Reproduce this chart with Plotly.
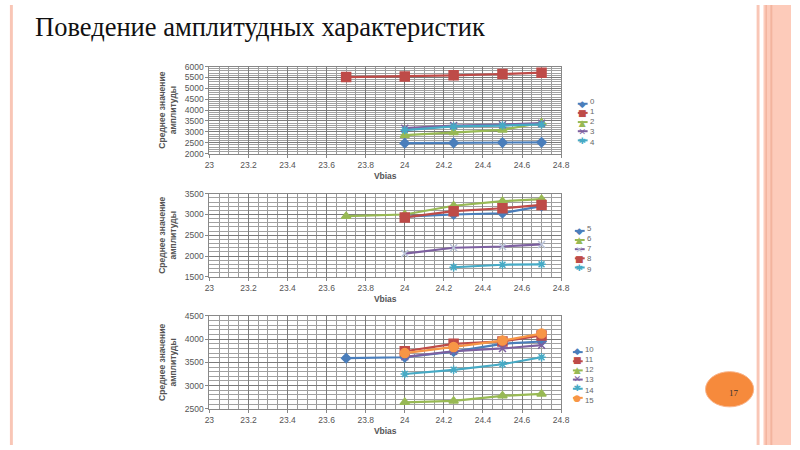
import plotly.graph_objects as go

# ---------------- data ----------------
title_text = "Поведение амплитудных характеристик"
x_tick_vals = [23, 23.2, 23.4, 23.6, 23.8, 24, 24.2, 24.4, 24.6, 24.8]
x_tick_text = ["23", "23.2", "23.4", "23.6", "23.8", "24", "24.2", "24.4", "24.6", "24.8"]

vb4 = [24, 24.25, 24.5, 24.7]
vb5 = [23.7, 24, 24.25, 24.5, 24.7]
vb3 = [24.25, 24.5, 24.7]

# chart 1 (channels 0-4)
ch0 = [2480, 2490, 2510, 2520]
ch1 = [5520, 5550, 5600, 5660, 5720]
ch2 = [2850, 2970, 3090, 3420]
ch3 = [3170, 3290, 3330, 3400]
ch4 = [3080, 3250, 3290, 3340]

# chart 2 (channels 5-9)
ch5 = [2950, 3000, 3030, 3200]
ch6 = [2960, 3000, 3210, 3320, 3370]
ch7 = [2060, 2200, 2230, 2280]
ch8 = [2930, 3080, 3150, 3230]
ch9 = [1730, 1790, 1800]

# chart 3 (channels 10-15)
ch10 = [3590, 3610, 3730, 3900, 3950]
ch11 = [3740, 3900, 3950, 4080]
ch12 = [2640, 2670, 2780, 2820]
ch13 = [3620, 3740, 3800, 3870]
ch14 = [3250, 3340, 3460, 3610]
ch15 = [3700, 3830, 3970, 4120]

BLUE = "#4A7EBB"
RED = "#BE4B48"
GREEN = "#98B954"
PURPLE = "#7D60A0"
AQUA = "#46AAC5"
ORANGE = "#F79646"
LIGHT = "#B9C3D8"

GLYPH = {"diamond": "◆", "square": "■", "triangle-up": "▲",
         "x-thin": "✕", "asterisk": "✱", "circle": "●"}

W, H = 800, 450
def py(p):
    return 1 - p / H
def px(p):
    return p / W

fig = go.Figure()
legend_items = {1: [], 2: [], 3: []}

def add(x, y, name, color, symbol, size, axis_idx, mcolor=None):
    xa = "x" if axis_idx == 1 else f"x{axis_idx}"
    ya = "y" if axis_idx == 1 else f"y{axis_idx}"
    fig.add_trace(go.Scatter(
        x=x, y=y, name=name, mode="lines+markers", showlegend=False,
        line=dict(color=color, width=2.2),
        marker=dict(symbol=symbol, size=size, color=mcolor or color,
                    line=dict(width=1.5, color=mcolor or color)),
        xaxis=xa, yaxis=ya))
    legend_items[axis_idx].append((name, color, symbol, mcolor or color))

add(vb4, ch0, "0", BLUE, "diamond", 7, 1)
add(vb5, ch1, "1", RED, "square", 9, 1)
add(vb4, ch2, "2", GREEN, "triangle-up", 8, 1)
add(vb4, ch3, "3", PURPLE, "x-thin", 7, 1)
add(vb4, ch4, "4", AQUA, "asterisk", 7, 1)

add(vb4, ch5, "5", BLUE, "diamond", 7, 2)
add(vb5, ch6, "6", GREEN, "triangle-up", 8, 2)
add(vb4, ch7, "7", PURPLE, "x-thin", 7, 2, mcolor=LIGHT)
add(vb4, ch8, "8", RED, "square", 9, 2)
add(vb3, ch9, "9", AQUA, "asterisk", 7, 2)

add(vb5, ch10, "10", BLUE, "diamond", 7, 3)
add(vb4, ch11, "11", RED, "square", 9, 3)
add(vb4, ch12, "12", GREEN, "triangle-up", 8, 3)
add(vb4, ch13, "13", PURPLE, "x-thin", 7, 3)
add(vb4, ch14, "14", AQUA, "asterisk", 7, 3)
add(vb4, ch15, "15", ORANGE, "circle", 9, 3)

xdom = [px(208), px(566)]
ydoms = {1: [py(152), py(63)], 2: [py(278), py(193)], 3: [py(413), py(318)]}
yranges = {1: [2000, 6000], 2: [1500, 3500], 3: [2500, 4500]}

tickfont = dict(family="Liberation Sans, Arial", size=8.5, color="#555555")
titlefont = dict(family="Liberation Sans, Arial", size=8.5, color="#555555")

layout = dict(
    width=W, height=H, margin=dict(l=0, r=0, t=0, b=0),
    paper_bgcolor="white", plot_bgcolor="white", showlegend=False,
)
for i in (1, 2, 3):
    xk = "xaxis" if i == 1 else f"xaxis{i}"
    yk = "yaxis" if i == 1 else f"yaxis{i}"
    layout[xk] = dict(
        domain=xdom, anchor="y" if i == 1 else f"y{i}", range=[23, 24.8],
        tickvals=x_tick_vals, ticktext=x_tick_text, tickfont=tickfont,
        showgrid=True, gridcolor="#7a7a7a", gridwidth=1,
        minor=dict(dtick=0.05, tick0=23, showgrid=True, gridcolor="#9a9a9a", gridwidth=1),
        showline=True, linecolor="#888888", mirror=True, zeroline=False,
        ticks="outside", ticklen=3, tickcolor="#888888",
        title=dict(text="<b>Vbias</b>", font=titlefont, standoff=4),
    )
    layout[yk] = dict(
        domain=ydoms[i], anchor="x" if i == 1 else f"x{i}", range=yranges[i],
        dtick=500, tickfont=tickfont,
        showgrid=True, gridcolor="#7a7a7a", gridwidth=1,
        minor=dict(dtick=100, showgrid=True, gridcolor="#a0a0a0", gridwidth=1),
        showline=True, linecolor="#888888", mirror=True, zeroline=False,
        ticks="outside", ticklen=3, tickcolor="#888888",
        title=dict(text="<b>Среднее значение<br>амплитуды</b>", font=titlefont, standoff=6),
    )
fig.update_layout(**layout)

# slide decorations
shapes = [
    dict(type="rect", xref="paper", yref="paper", x0=px(5), x1=px(8), y0=0, y1=1,
         fillcolor="#F9C6B6", line=dict(width=0), layer="below"),
    dict(type="rect", xref="paper", yref="paper", x0=px(765), x1=px(768), y0=0, y1=1,
         fillcolor="#F9C6B6", line=dict(width=0), layer="below"),
    dict(type="rect", xref="paper", yref="paper", x0=px(772), x1=px(800), y0=0, y1=1,
         fillcolor="#FDCBBA", line=dict(width=0), layer="below"),
    dict(type="rect", xref="paper", yref="paper", x0=px(774), x1=px(775.5), y0=0, y1=1,
         fillcolor="#F3B49E", line=dict(width=0), layer="below"),
    dict(type="rect", xref="paper", yref="paper", x0=px(779), x1=px(781), y0=0, y1=1,
         fillcolor="#F3B49E", line=dict(width=0), layer="below"),
    dict(type="circle", xref="paper", yref="paper", x0=px(713), x1=px(762),
         y0=py(411), y1=py(375), fillcolor="#F68A3C", line=dict(color="#F9B48A", width=1)),
]

# manual compact legends (Excel-like spacing); one multi-line text per column
LEG_FS = 7.2
STEP = LEG_FS * 1.3
legend_layout = {1: (583, 101), 2: (580, 231), 3: (578, 355)}
annotations = []
for idx, (lx, ly) in legend_layout.items():
    items = legend_items[idx]
    n = len(items)
    center = ly + (n - 1) * STEP / 2
    for k, (name, color, symbol, mcolor) in enumerate(items):
        yy = ly + k * STEP
        shapes.append(dict(type="line", xref="paper", yref="paper",
                           x0=px(lx), x1=px(lx + 10), y0=py(yy), y1=py(yy),
                           line=dict(color=color, width=2)))
    glyphs = "<br>".join(
        f"<span style='color:{m};font-size:9px'>{GLYPH[s]}</span>" for _, _, s, m in items)
    names = "<br>".join(nm for nm, _, _, _ in items)
    annotations.append(dict(text=glyphs, xref="paper", yref="paper",
                            x=px(lx + 5), y=py(center), xanchor="center", yanchor="middle",
                            showarrow=False, align="center",
                            font=dict(family="DejaVu Sans", size=LEG_FS, color="#666666")))
    annotations.append(dict(text=names, xref="paper", yref="paper",
                            x=px(lx + 10), y=py(center), xanchor="left", yanchor="middle",
                            showarrow=False, align="left",
                            font=dict(family="Liberation Sans, Arial", size=LEG_FS + 0.6,
                                      color="#666666")))

annotations.append(dict(text=title_text, xref="paper", yref="paper", x=px(29), y=py(22),
                        xanchor="left", yanchor="middle", showarrow=False,
                        font=dict(family="Liberation Serif, Times New Roman, serif", size=26.5,
                                  color="#111111")))
annotations.append(dict(text="17", xref="paper", yref="paper", x=px(742), y=py(397),
                        xanchor="center", yanchor="middle", showarrow=False,
                        font=dict(family="Liberation Serif, Times New Roman, serif", size=9,
                                  color="#333333")))

fig.update_layout(shapes=shapes, annotations=annotations)

fig.write_html("out.html", config={"displayModeBar": False},
               post_script="document.body.style.margin='0';")
